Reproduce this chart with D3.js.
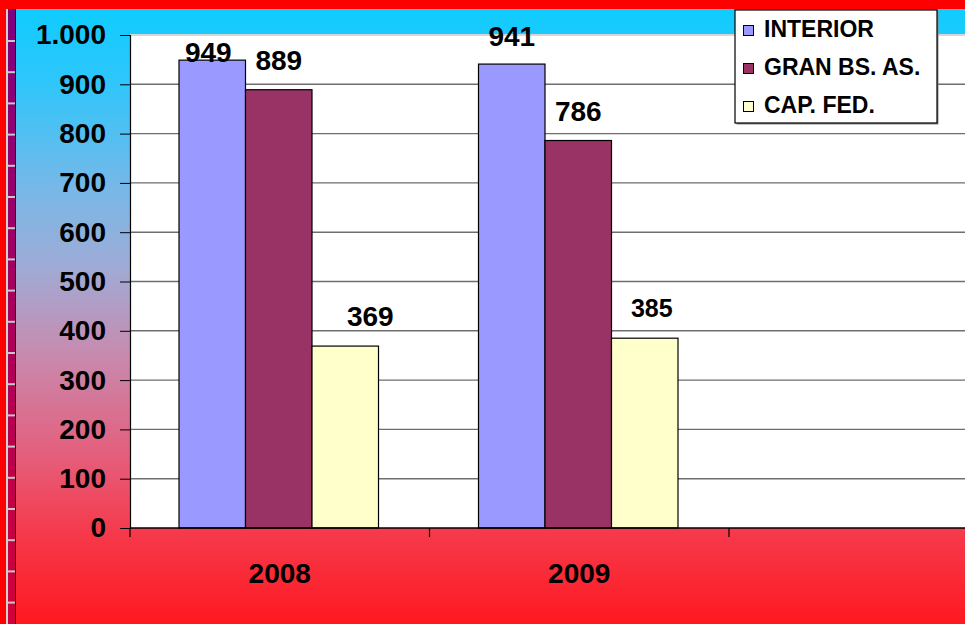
<!DOCTYPE html>
<html>
<head>
<meta charset="utf-8">
<script src="https://cdn.jsdelivr.net/npm/d3@7"></script>
<style>
  html, body { margin: 0; padding: 0; background: #ff0000; }
  svg { display: block; font-family: "Liberation Sans", Arial, sans-serif; font-weight: bold; }
</style>
</head>
<body>
<svg id="chart" width="965" height="624"></svg>
<script>
// data
var years = ["2008", "2009", ""];
var seriesNames = ["INTERIOR", "GRAN BS. AS.", "CAP. FED."];
var interior = [949, 941];
var granBsAs = [889, 786];
var capFed = [369, 385];
var yTicks = [0, 100, 200, 300, 400, 500, 600, 700, 800, 900, 1000];
var colors = ["#9999ff", "#993366", "#ffffcc"];

var values = [interior, granBsAs, capFed];

var width = 965, height = 624;
var margin = {top: 35, left: 130, bottom: 96};
var plotH = height - margin.top - margin.bottom;
var catW = 299.5;

var svg = d3.select("#chart");

// background gradient
var defs = svg.append("defs");
var grad = defs.append("linearGradient")
    .attr("id", "bg")
    .attr("x1", 0).attr("y1", 0).attr("x2", 0).attr("y2", 1);
[[0, "#10ccff"], [0.12, "#2fc6fb"], [0.3, "#7ab7e6"], [0.42, "#9fabd6"], [0.55, "#c58db2"],
 [0.72, "#e4607e"], [0.85, "#f53a4c"], [1, "#ff1820"]].forEach(function(s) {
  grad.append("stop").attr("offset", s[0]).attr("stop-color", s[1]);
});
var gradStrip = defs.append("linearGradient")
    .attr("id", "strip")
    .attr("x1", 0).attr("y1", 0).attr("x2", 0).attr("y2", 1);
gradStrip.append("stop").attr("offset", 0).attr("stop-color", "#7f007f");
gradStrip.append("stop").attr("offset", 1).attr("stop-color", "#d4003a");

svg.append("rect").attr("width", width).attr("height", height).attr("fill", "#ff0000");
svg.append("rect")
    .attr("x", 16).attr("y", 9)
    .attr("width", width - 16).attr("height", height - 9)
    .attr("fill", "url(#bg)");

// left decorative strip
svg.append("rect").attr("x", 6).attr("y", 9).attr("width", 2).attr("height", height)
    .attr("fill", "#d0d0d0");
svg.append("rect").attr("x", 8).attr("y", 9).attr("width", 7).attr("height", height)
    .attr("fill", "url(#strip)");
svg.append("rect").attr("x", 15).attr("y", 9).attr("width", 1).attr("height", height)
    .attr("fill", "#3a0030");
svg.append("g").selectAll("rect")
    .data(d3.range(40, height, 31.2))
    .join("rect")
    .attr("x", 8).attr("y", function(d) { return d; })
    .attr("width", 7).attr("height", 2)
    .attr("fill", "#c8c8c8");

// scales
var x0 = d3.scaleBand()
    .domain(d3.range(years.length))
    .range([margin.left, margin.left + catW * years.length]);
var x1 = d3.scaleBand()
    .domain(seriesNames)
    .range([49, 49 + 199.5]);
var y = d3.scaleLinear()
    .domain([0, 1000])
    .range([margin.top + plotH, margin.top]);

// plot area
svg.append("rect")
    .attr("x", margin.left).attr("y", margin.top - 1)
    .attr("width", width - margin.left).attr("height", plotH + 1)
    .attr("fill", "#ffffff");

svg.append("g").selectAll("line")
    .data(yTicks.slice(1))
    .join("line")
    .attr("x1", margin.left).attr("x2", width)
    .attr("y1", function(d) { return y(d); })
    .attr("y2", function(d) { return y(d); })
    .attr("stroke", function(d) { return d === 1000 ? "#c8c8c8" : "#6e6e6e"; })
    .attr("stroke-width", 1.4);

// bars
var groups = svg.append("g").selectAll("g")
    .data(years.filter(function(d) { return d; }))
    .join("g")
    .attr("transform", function(d, i) { return "translate(" + x0(i) + ",0)"; });

groups.selectAll("rect")
    .data(function(d, i) {
      return seriesNames.map(function(s, j) { return {s: s, j: j, v: values[j][i], year: d}; });
    })
    .join("rect")
    .attr("x", function(d) { return x1(d.s); })
    .attr("y", function(d) { return y(d.v); })
    .attr("width", x1.bandwidth())
    .attr("height", function(d) { return y(0) - y(d.v); })
    .attr("fill", function(d) { return colors[d.j]; })
    .attr("stroke", "#000")
    .attr("stroke-width", 1.2);

// hand-placed labels in the original
var labelNudge = {
  "2008|INTERIOR": {dx: -4, dy: 22},
  "2009|INTERIOR": {dx: 0, dy: 2},
  "2008|CAP. FED.": {dx: 25, dy: 0},
  "2009|CAP. FED.": {dx: 7, dy: -1, size: 25}
};

groups.selectAll("text")
    .data(function(d, i) {
      return seriesNames.map(function(s, j) { return {s: s, j: j, v: values[j][i], year: d}; });
    })
    .join("text")
    .attr("x", function(d) {
      var n = labelNudge[d.year + "|" + d.s];
      return x1(d.s) + x1.bandwidth() / 2 + (n ? n.dx : 0);
    })
    .attr("y", function(d) {
      var n = labelNudge[d.year + "|" + d.s];
      return y(d.v) - 20 + (n ? n.dy : 0);
    })
    .attr("text-anchor", "middle")
    .style("font-size", function(d) {
      var n = labelNudge[d.year + "|" + d.s];
      return (n && n.size ? n.size : 28) + "px";
    })
    .text(function(d) { return d.v; });

// axes
var es = d3.formatLocale({decimal: ",", thousands: ".", grouping: [3], currency: ["", ""]});
var yAxis = d3.axisLeft(y)
    .tickValues(yTicks)
    .tickSize(10)
    .tickPadding(14)
    .tickFormat(es.format(",d"));

var gy = svg.append("g")
    .attr("transform", "translate(" + margin.left + ",0)")
    .call(yAxis);
gy.select(".domain").attr("stroke", "#000").attr("stroke-width", 1.2);
gy.selectAll(".tick line").attr("stroke", "#000");
gy.selectAll(".tick text")
    .attr("fill", "#000")
    .style("font-size", "28px")
    .style("font-family", "Liberation Sans, Arial, sans-serif")
    .style("font-weight", "bold");

var xBoundaries = d3.range(years.length + 1).map(function(i) { return margin.left + catW * i; });
svg.append("line")
    .attr("x1", margin.left).attr("x2", width)
    .attr("y1", y(0)).attr("y2", y(0))
    .attr("stroke", "#000").attr("stroke-width", 1.4);
svg.append("g").selectAll("line")
    .data(xBoundaries)
    .join("line")
    .attr("x1", function(d) { return d; }).attr("x2", function(d) { return d; })
    .attr("y1", y(0)).attr("y2", y(0) + 9)
    .attr("stroke", "#000").attr("stroke-width", 1.2);

svg.append("g").selectAll("text")
    .data(years)
    .join("text")
    .attr("x", function(d, i) { return x0(i) + x0.bandwidth() / 2; })
    .attr("y", y(0) + 55)
    .attr("text-anchor", "middle")
    .style("font-size", "28px")
    .text(function(d) { return d; });

// legend
var legend = svg.append("g").attr("transform", "translate(735,10)");
legend.append("rect")
    .attr("x", 1.5).attr("y", 1.5)
    .attr("width", 202).attr("height", 113)
    .attr("fill", "#8a8a8a");
legend.append("rect")
    .attr("width", 202).attr("height", 113)
    .attr("fill", "#fff").attr("stroke", "#000").attr("stroke-width", 1.2);
var rows = legend.selectAll("g")
    .data(seriesNames)
    .join("g")
    .attr("transform", function(d, i) { return "translate(0," + (i * 38) + ")"; });
rows.append("rect")
    .attr("x", 8.5).attr("y", 15.5)
    .attr("width", 10).attr("height", 10)
    .attr("fill", function(d, i) { return colors[i]; })
    .attr("stroke", "#000");
rows.append("text")
    .attr("x", 29).attr("y", 27)
    .style("font-size", "23px")
    .text(function(d) { return d; });
</script>
</body>
</html>
